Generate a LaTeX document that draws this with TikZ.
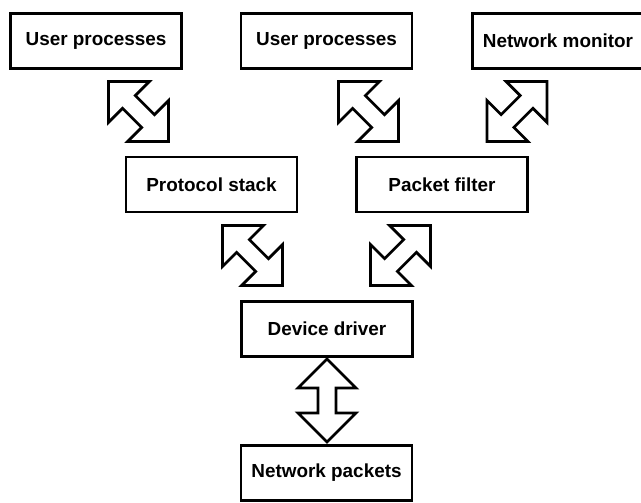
\documentclass[tikz,border=0pt]{standalone}
\usepackage{fontspec}
\setmainfont{Liberation Sans}
\begin{document}
\begin{tikzpicture}[x=1pt,y=-1pt,
  box/.style={draw=black,line width=2.7pt,minimum width=171pt,minimum height=55pt,
    inner sep=0pt,font=\fontsize{18.9}{22}\selectfont\bfseries,fill=white},
  fatline/.style={draw=black,line width=2.7pt,line join=miter,fill=white}]
\newcommand\fatarrow[4]{%
  \draw[fatline,shift={(#1,#2)},rotate=#3]
    (-#4/2,0) -- (-#4/2+29,29) -- (-#4/2+29,9) -- (#4/2-29,9) -- (#4/2-29,29)
    -- (#4/2,0) -- (#4/2-29,-29) -- (#4/2-29,-9) -- (-#4/2+29,-9) -- (-#4/2+29,-29) -- cycle;}
\useasboundingbox (0,0) rectangle (641,503);
\clip (0,0) rectangle (641,503);
\fill[white] (0,0) rectangle (641,503);
\node[box] (up1) at (96,41) {User processes};
\node[box] (up2) at (326.5,41) {User processes};
\node[box] (nm) at (558,41) {Network monitor};
\node[box] (ps) at (211.5,184.5) {Protocol stack};
\node[box] (pf) at (442,184.5) {Packet filter};
\node[box] (dd) at (327,329) {Device driver};
\node[box] (np) at (326.5,473) {Network packets};
\fatarrow{138.5}{111.5}{-45}{85}
\fatarrow{368.5}{111.5}{-45}{85}
\fatarrow{517}{111.5}{45}{85}
\fatarrow{252.5}{255.5}{-45}{85}
\fatarrow{400.5}{255.5}{45}{85}
\fatarrow{327}{400.5}{90}{83}
\end{tikzpicture}
\end{document}
